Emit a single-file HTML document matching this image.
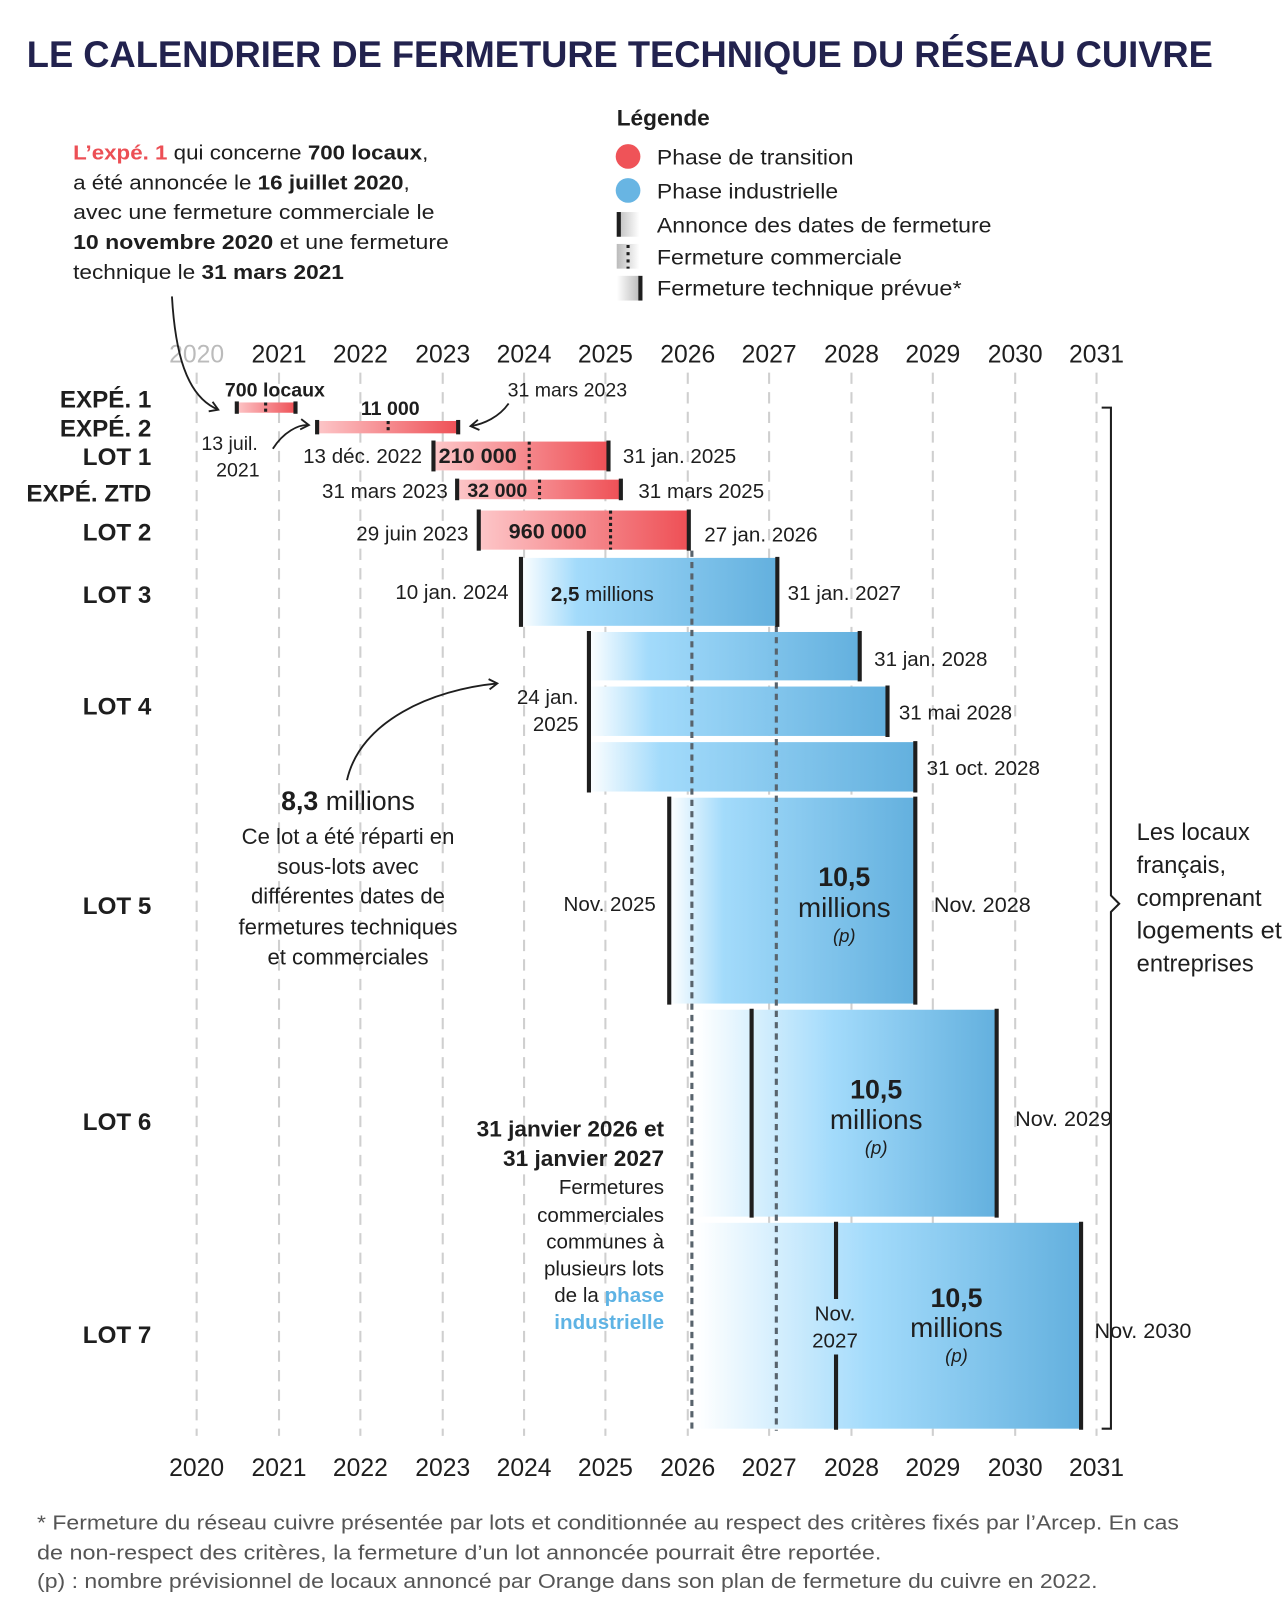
<!DOCTYPE html>
<html><head><meta charset="utf-8"><style>
html,body{margin:0;padding:0;background:#fff}
svg{display:block}
text{font-family:"Liberation Sans",sans-serif;fill:#1e1e1e}
.b{font-weight:bold}
</style></head><body>
<svg width="1287" height="1616" viewBox="0 0 1250 1570" preserveAspectRatio="none" xmlns="http://www.w3.org/2000/svg">
<defs>
<linearGradient id="r" x1="0" x2="1" y1="0" y2="0"><stop offset="0" stop-color="#fdc7c9"/><stop offset="1" stop-color="#ee4f55"/></linearGradient>
<linearGradient id="bl" x1="0" x2="1"><stop offset="0" stop-color="#ffffff"/><stop offset="0.22" stop-color="#a3dbfb"/><stop offset="1" stop-color="#63b0de"/></linearGradient>
<linearGradient id="bl2" x1="0" x2="1"><stop offset="0" stop-color="#ffffff"/><stop offset="0.45" stop-color="#a3dbfb"/><stop offset="1" stop-color="#63b0de"/></linearGradient>
<linearGradient id="g1" x1="0" x2="1"><stop offset="0" stop-color="#bbb"/><stop offset="1" stop-color="#fff"/></linearGradient>
<linearGradient id="g2" x1="0" x2="1"><stop offset="0" stop-color="#fff"/><stop offset="1" stop-color="#bbb"/></linearGradient>
<marker id="ah" markerWidth="12" markerHeight="12" refX="10" refY="6" orient="auto" markerUnits="userSpaceOnUse"><path d="M2,1 L10,6 L2,11" fill="none" stroke="#1e1e1e" stroke-width="1.8"/></marker>
</defs>

<text x="26" y="65" font-size="36" class="b" style="fill:#22224e" textLength="1152" lengthAdjust="spacingAndGlyphs">LE CALENDRIER DE FERMETURE TECHNIQUE DU RÉSEAU CUIVRE</text>

<g font-size="20">
<text x="71" y="155" textLength="345" lengthAdjust="spacingAndGlyphs"><tspan class="b" style="fill:#ec4f55">L’expé. 1</tspan> qui concerne <tspan class="b">700 locaux</tspan>,</text>
<text x="71" y="184" textLength="327" lengthAdjust="spacingAndGlyphs">a été annoncée le <tspan class="b">16 juillet 2020</tspan>,</text>
<text x="71" y="213" textLength="351" lengthAdjust="spacingAndGlyphs">avec une fermeture commerciale le</text>
<text x="71" y="242" textLength="365" lengthAdjust="spacingAndGlyphs"><tspan class="b">10 novembre 2020</tspan> et une fermeture</text>
<text x="71" y="271" textLength="263" lengthAdjust="spacingAndGlyphs">technique le <tspan class="b">31 mars 2021</tspan></text>
</g>

<text x="599" y="122" font-size="22" class="b">Légende</text>
<circle cx="610" cy="152" r="12" fill="#ef5358"/>
<circle cx="610" cy="185" r="12" fill="#68b5e3"/>
<rect x="599" y="206" width="22" height="24" fill="url(#g1)"/><rect x="599" y="206" width="4" height="24" fill="#1e1e1e"/>
<rect x="599" y="237" width="22" height="24" fill="url(#g1)"/><line x1="610" y1="238" x2="610" y2="261" stroke="#1e1e1e" stroke-width="3" stroke-dasharray="3 4"/>
<rect x="599" y="268" width="22" height="24" fill="url(#g2)"/><rect x="620" y="268" width="4" height="24" fill="#1e1e1e"/>
<g font-size="21">
<text x="638" y="160" textLength="191" lengthAdjust="spacingAndGlyphs">Phase de transition</text>
<text x="638" y="193" textLength="176" lengthAdjust="spacingAndGlyphs">Phase industrielle</text>
<text x="638" y="226" textLength="325" lengthAdjust="spacingAndGlyphs">Annonce des dates de fermeture</text>
<text x="638" y="257" textLength="238" lengthAdjust="spacingAndGlyphs">Fermeture commerciale</text>
<text x="638" y="287" textLength="296" lengthAdjust="spacingAndGlyphs">Fermeture technique prévue*</text>
</g>

<g stroke="#cfcfcf" stroke-width="2" stroke-dasharray="11 8">
<line x1="191" y1="362" x2="191" y2="1395"/><line x1="271" y1="362" x2="271" y2="1395"/><line x1="350" y1="362" x2="350" y2="1395"/><line x1="430" y1="362" x2="430" y2="1395"/><line x1="509" y1="362" x2="509" y2="1395"/><line x1="588" y1="362" x2="588" y2="1395"/><line x1="668" y1="362" x2="668" y2="1395"/><line x1="747" y1="362" x2="747" y2="1395"/><line x1="827" y1="362" x2="827" y2="1395"/><line x1="906" y1="362" x2="906" y2="1395"/><line x1="986" y1="362" x2="986" y2="1395"/><line x1="1065" y1="362" x2="1065" y2="1395"/>
</g>

<g font-size="24" text-anchor="middle">
<text x="191" y="352" style="fill:#bbb">2020</text><text x="271" y="352">2021</text><text x="350" y="352">2022</text><text x="430" y="352">2023</text><text x="509" y="352">2024</text><text x="588" y="352">2025</text><text x="668" y="352">2026</text><text x="747" y="352">2027</text><text x="827" y="352">2028</text><text x="906" y="352">2029</text><text x="986" y="352">2030</text><text x="1065" y="352">2031</text>
<text x="191" y="1434">2020</text><text x="271" y="1434">2021</text><text x="350" y="1434">2022</text><text x="430" y="1434">2023</text><text x="509" y="1434">2024</text><text x="588" y="1434">2025</text><text x="668" y="1434">2026</text><text x="747" y="1434">2027</text><text x="827" y="1434">2028</text><text x="906" y="1434">2029</text><text x="986" y="1434">2030</text><text x="1065" y="1434">2031</text>
</g>

<g font-size="23.5" class="b" text-anchor="end">
<text x="147" y="396">EXPÉ. 1</text><text x="147" y="424">EXPÉ. 2</text><text x="147" y="452">LOT 1</text><text x="147" y="487">EXPÉ. ZTD</text><text x="147" y="525">LOT 2</text><text x="147" y="586">LOT 3</text><text x="147" y="694">LOT 4</text><text x="147" y="888">LOT 5</text><text x="147" y="1098">LOT 6</text><text x="147" y="1305">LOT 7</text>
</g>

<rect x="229" y="391" width="59" height="10" fill="url(#r)"/>
<rect x="307" y="409" width="139" height="12" fill="url(#r)"/>
<rect x="420" y="429" width="172" height="28" fill="url(#r)"/>
<rect x="443" y="466" width="161" height="19" fill="url(#r)"/>
<rect x="464" y="496" width="205" height="38" fill="url(#r)"/>
<rect x="505" y="542" width="250" height="66" fill="url(#bl)"/>
<rect x="571" y="614" width="265" height="47" fill="url(#bl)"/>
<rect x="571" y="667" width="292" height="48" fill="url(#bl)"/>
<rect x="571" y="721" width="318" height="48" fill="url(#bl)"/>
<rect x="650" y="775" width="239" height="200" fill="url(#bl)"/>
<rect x="677" y="981" width="291" height="201" fill="url(#bl2)"/>
<rect x="677" y="1188" width="373" height="200" fill="url(#bl2)"/>

<g stroke="#1e1e1e" stroke-width="3" stroke-dasharray="3 3">
<line x1="258" y1="391" x2="258" y2="401"/><line x1="377" y1="409" x2="377" y2="421"/><line x1="514" y1="429" x2="514" y2="457"/><line x1="524" y1="466" x2="524" y2="485"/><line x1="593" y1="496" x2="593" y2="534"/>
</g>
<g stroke="#58636c" stroke-width="3" stroke-dasharray="6 5">
<line x1="672" y1="535" x2="672" y2="1390"/><line x1="754" y1="608" x2="754" y2="1390"/>
</g>

<g stroke="#1e1e1e" stroke-width="4">
<line x1="230" y1="390" x2="230" y2="402"/><line x1="287" y1="390" x2="287" y2="402"/>
<line x1="308" y1="408" x2="308" y2="422"/><line x1="445" y1="408" x2="445" y2="422"/>
<line x1="421" y1="428" x2="421" y2="458"/><line x1="591" y1="428" x2="591" y2="458"/>
<line x1="444" y1="465" x2="444" y2="486"/><line x1="603" y1="465" x2="603" y2="486"/>
<line x1="465" y1="495" x2="465" y2="535"/><line x1="669" y1="495" x2="669" y2="535"/>
<line x1="506" y1="541" x2="506" y2="609"/><line x1="755" y1="541" x2="755" y2="609"/>
<line x1="572" y1="613" x2="572" y2="770"/><line x1="835" y1="613" x2="835" y2="662"/><line x1="862" y1="666" x2="862" y2="716"/><line x1="889" y1="720" x2="889" y2="770"/>
<line x1="650" y1="774" x2="650" y2="976"/><line x1="889" y1="774" x2="889" y2="976"/>
<line x1="730" y1="980" x2="730" y2="1183"/><line x1="968" y1="980" x2="968" y2="1183"/>
<line x1="812" y1="1187" x2="812" y2="1262"/><line x1="812" y1="1316" x2="812" y2="1389"/><line x1="1050" y1="1187" x2="1050" y2="1389"/>
</g>

<g font-size="20">
<text x="267" y="385" class="b" text-anchor="middle" font-size="19">700 locaux</text>
<text x="379" y="403" class="b" text-anchor="middle" font-size="19">11 000</text>
<text x="493" y="385" font-size="19">31 mars 2023</text>
<text x="223" y="437" text-anchor="middle" font-size="19">13 juil.</text>
<text x="231" y="463" text-anchor="middle" font-size="19">2021</text>
<text x="410" y="450" text-anchor="end">13 déc. 2022</text>
<text x="426" y="450" class="b" font-size="21">210 000</text>
<text x="605" y="450">31 jan. 2025</text>
<text x="435" y="484" text-anchor="end">31 mars 2023</text>
<text x="454" y="483" class="b" font-size="19">32 000</text>
<text x="620" y="484">31 mars 2025</text>
<text x="455" y="525" text-anchor="end">29 juin 2023</text>
<text x="532" y="523" class="b" font-size="21" text-anchor="middle">960 000</text>
<text x="684" y="526">27 jan. 2026</text>
<text x="494" y="582" text-anchor="end">10 jan. 2024</text>
<text x="535" y="584" font-size="20"><tspan class="b">2,5</tspan> millions</text>
<text x="765" y="583">31 jan. 2027</text>
<text x="849" y="647">31 jan. 2028</text>
<text x="873" y="699">31 mai 2028</text>
<text x="900" y="753">31 oct. 2028</text>
<text x="562" y="684" text-anchor="end">24 jan.</text>
<text x="562" y="710" text-anchor="end">2025</text>
<text x="637" y="885" text-anchor="end">Nov. 2025</text>
<text x="907" y="886" font-size="21">Nov. 2028</text>
<text x="986" y="1094" font-size="21">Nov. 2029</text>
<text x="1063" y="1300" font-size="21">Nov. 2030</text>
<text x="811" y="1283" text-anchor="middle">Nov.</text>
<text x="811" y="1309" text-anchor="middle">2027</text>
</g>
<g text-anchor="middle">
<text x="820" y="861" font-size="26" class="b">10,5</text><text x="820" y="891" font-size="27">millions</text><text x="820" y="915" font-size="18" font-style="italic">(p)</text>
<text x="851" y="1067" font-size="26" class="b">10,5</text><text x="851" y="1097" font-size="27">millions</text><text x="851" y="1121" font-size="18" font-style="italic">(p)</text>
<text x="929" y="1270" font-size="26" class="b">10,5</text><text x="929" y="1299" font-size="27">millions</text><text x="929" y="1323" font-size="18" font-style="italic">(p)</text>
</g>

<g text-anchor="middle" font-size="21.5">
<text x="338" y="787" font-size="26"><tspan class="b">8,3</tspan> millions</text>
<text x="338" y="820">Ce lot a été réparti en</text>
<text x="338" y="849">sous-lots avec</text>
<text x="338" y="878">différentes dates de</text>
<text x="338" y="908">fermetures techniques</text>
<text x="338" y="937">et commerciales</text>
</g>

<g text-anchor="end" font-size="20">
<text x="645" y="1104" class="b" font-size="22">31 janvier 2026 et</text>
<text x="645" y="1133" class="b" font-size="22">31 janvier 2027</text>
<text x="645" y="1160">Fermetures</text>
<text x="645" y="1187">commerciales</text>
<text x="645" y="1213">communes à</text>
<text x="645" y="1239">plusieurs lots</text>
<text x="645" y="1265">de la <tspan class="b" style="fill:#5eb3e4">phase</tspan></text>
<text x="645" y="1291" class="b" style="fill:#5eb3e4">industrielle</text>
</g>

<path d="M1070,396 H1079 V870 L1087,878 L1079,886 V1388 H1070" fill="none" stroke="#1e1e1e" stroke-width="2"/>
<g font-size="23">
<text x="1104" y="816">Les locaux</text><text x="1104" y="848">français,</text><text x="1104" y="880">comprenant</text><text x="1104" y="912" textLength="141" lengthAdjust="spacingAndGlyphs">logements et</text><text x="1104" y="944">entreprises</text>
</g>

<g fill="none" stroke="#1e1e1e" stroke-width="1.8" marker-end="url(#ah)">
<path d="M167,288 C170,340 180,385 212,398"/>
<path d="M265,436 C275,420 290,412 300,413"/>
<path d="M494,392 C485,405 470,412 457,414"/>
<path d="M337,758 C350,700 420,670 483,664"/>
</g>

<g font-size="20">
<text x="36" y="1486" style="fill:#555" textLength="1109" lengthAdjust="spacingAndGlyphs">* Fermeture du réseau cuivre présentée par lots et conditionnée au respect des critères fixés par l’Arcep. En cas</text>
<text x="36" y="1515" style="fill:#555" textLength="820" lengthAdjust="spacingAndGlyphs">de non-respect des critères, la fermeture d’un lot annoncée pourrait être reportée.</text>
<text x="36" y="1543" style="fill:#555" textLength="1030" lengthAdjust="spacingAndGlyphs">(p) : nombre prévisionnel de locaux annoncé par Orange dans son plan de fermeture du cuivre en 2022.</text>
</g>
</svg>
</body></html>
